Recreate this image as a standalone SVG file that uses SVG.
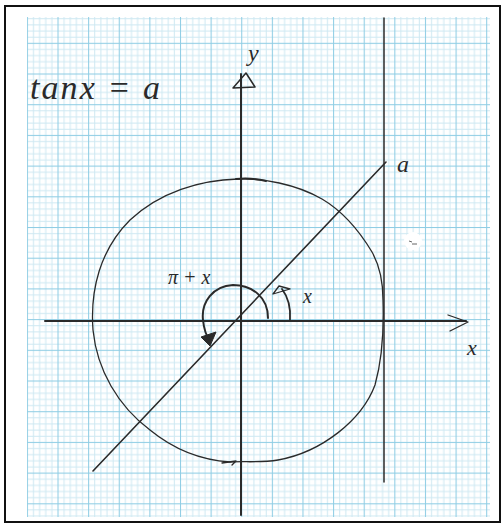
<svg xmlns="http://www.w3.org/2000/svg" width="504" height="525" viewBox="0 0 504 525">
<defs>
<pattern id="grid" patternUnits="userSpaceOnUse" x="57.5" y="42.8" width="30.62" height="30.7">
<g stroke="#cde8f2" stroke-width="1">
<line x1="6.62" y1="0" x2="6.62" y2="30.7"/>
<line x1="12.75" y1="0" x2="12.75" y2="30.7"/>
<line x1="18.87" y1="0" x2="18.87" y2="30.7"/>
<line x1="25" y1="0" x2="25" y2="30.7"/>
<line x1="0" y1="6.64" x2="30.62" y2="6.64"/>
<line x1="0" y1="12.78" x2="30.62" y2="12.78"/>
<line x1="0" y1="18.92" x2="30.62" y2="18.92"/>
<line x1="0" y1="25.06" x2="30.62" y2="25.06"/>
</g>
<g stroke="#8fcde4" stroke-width="1.1">
<line x1="0.5" y1="0" x2="0.5" y2="30.7"/>
<line x1="0" y1="0.5" x2="30.62" y2="0.5"/>
</g>
</pattern>
<style>
.ink{fill:none;stroke:#2a2a2a;stroke-linecap:round;stroke-linejoin:round}
.hand{font-family:"Liberation Serif",serif;font-style:italic;fill:#2a2a2a}
</style>
</defs>
<rect x="0" y="0" width="504" height="525" fill="#ffffff"/>
<rect id="paper" x="27" y="17" width="463" height="500" fill="url(#grid)"/>
<rect id="frame" x="5" y="6" width="495" height="516" fill="none" stroke="#111" stroke-width="2"/>
<g id="blot">
<ellipse cx="413" cy="241" rx="9" ry="9" fill="#ffffff"/>
<path d="M409 241 L412 242 M412 244 L417 244" stroke="#666" stroke-width="1" fill="none"/>
</g>
<g id="circle">
<path class="ink" stroke="#4a4a4a" stroke-width="1.3" d="M238 179 C262 178 296 184 322 199 C344 212 360 232 372 252 C381 268 383 283 383 300 C384 330 382 360 375 385 C362 420 322 452 278 460 C260 463 245 461 230 462 C200 460 172 448 150 430 C118 406 97 370 93 330 C90 290 100 250 130 220 C160 192 200 180 238 179 Z"/>
<path class="ink" stroke-width="2" d="M236 179 C248 178 258 179 266 181"/>
<path class="ink" stroke-width="1.3" d="M222 463 L236 461 L232 465"/>
</g>
<g id="connectors">
<g id="x-axis">
<path class="ink" stroke-width="2" d="M45 321 L466 321"/>
<path class="ink" stroke-width="1.3" d="M448 315 L468 322 L450 331"/>
</g>
<g id="y-axis">
<path class="ink" stroke-width="2" d="M241 515 L241 74"/>
<path class="ink" stroke-width="1.5" d="M233 88 L246 73 L255 87 Z"/>
</g>
<g id="line-x-equals-one">
<path class="ink" stroke="#444" stroke-width="1.5" d="M384 18 L384 482"/>
</g>
<g id="line-a">
<path class="ink" stroke-width="1.6" d="M93 471 L386 162"/>
</g>
<g id="angle-x">
<path class="ink" stroke-width="1.8" d="M290 320 C291 306 288 297 282 289"/>
<path class="ink" stroke-width="1.3" fill="#ffffff" d="M273 294 L279 286 L290 289 Z"/>
</g>
<g id="angle-pi-plus-x">
<path class="ink" stroke-width="2" d="M268 318 C268 297 252 285 233 285 C213 286 201 302 203 320 C204 330 207 337 210 341"/>
<path fill="#2a2a2a" stroke="#2a2a2a" stroke-width="1" stroke-linejoin="round" d="M201 337 L216 332 L210 346 Z"/>
</g>
</g>
<g id="labels">
<text id="eq" class="hand" x="30" y="99" font-size="34" textLength="130" lengthAdjust="spacing">tanx = a</text>
<text id="lbl-y" class="hand" x="248" y="61" font-size="24">y</text>
<text id="lbl-a" class="hand" x="397" y="172" font-size="24">a</text>
<text id="lbl-x-axis" class="hand" x="467" y="355" font-size="22">x</text>
<text id="lbl-x-angle" class="hand" x="303" y="303" font-size="20">x</text>
<text id="lbl-pi-x" class="hand" x="168" y="284" font-size="20">π + x</text>
</g>
</svg>
